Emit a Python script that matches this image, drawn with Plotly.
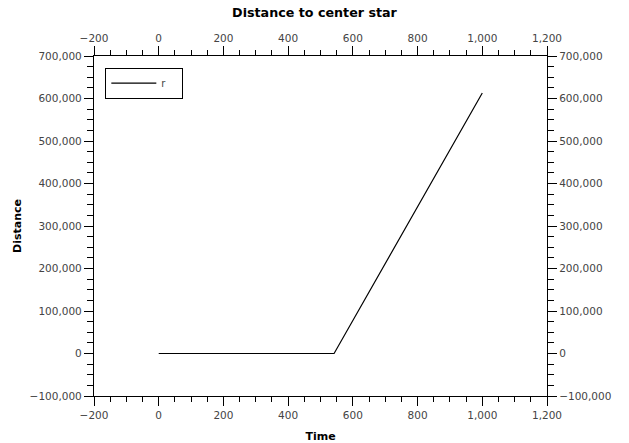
import plotly.graph_objects as go

# Radial distance of the body from the central star over time
time = [0, 542, 1000]
distance = [0, 0, 613000]
series_name = "r"

x_range = [-200, 1200]
y_range = [-100000, 700000]

tick_font = dict(family="DejaVu Sans", size=10.5, color="#444444")
title_font = dict(family="DejaVu Sans", size=11, color="black", weight="bold")

fig = go.Figure()
fig.add_trace(go.Scatter(
    x=time, y=distance, mode="lines", name=series_name,
    line=dict(color="black", width=1.2),
    xaxis="x", yaxis="y",
))
# Companion trace so the top and right axes get drawn with labels
fig.add_trace(go.Scatter(
    x=time, y=distance, mode="lines", showlegend=False, hoverinfo="skip",
    line=dict(color="rgba(0,0,0,0)", width=0),
    xaxis="x2", yaxis="y2",
))

common_x = dict(
    range=x_range, dtick=200, tickformat=",d", showgrid=False, zeroline=False,
    showline=True, linecolor="black", linewidth=1.2, automargin=False,
    ticks="outside", ticklen=9, tickwidth=1.2, tickcolor="black",
    minor=dict(dtick=50, ticks="outside", ticklen=5, tickwidth=1, tickcolor="black"),
    tickfont=tick_font,
)
common_y = dict(
    range=y_range, dtick=100000, tickformat=",d", showgrid=False, zeroline=False,
    showline=True, linecolor="black", linewidth=1.2, automargin=False,
    ticks="outside", ticklen=9, tickwidth=1.2, tickcolor="black",
    minor=dict(dtick=25000, ticks="outside", ticklen=6, tickwidth=1, tickcolor="black"),
    tickfont=tick_font,
)

fig.update_layout(
    width=629, height=443,
    margin=dict(l=94, r=82, t=56, b=47, autoexpand=False),
    paper_bgcolor="white", plot_bgcolor="white",
    title=dict(text="Distance to center star", x=0.5, xanchor="center",
               y=0.972, yanchor="middle",
               font=dict(title_font, size=12.7)),
    xaxis=dict(common_x, title=dict(text="Time", font=title_font, standoff=12)),
    yaxis=dict(common_y, title=dict(text="Distance", font=title_font, standoff=5)),
    xaxis2=dict(common_x, overlaying="x", side="top"),
    yaxis2=dict(common_y, overlaying="y", side="right"),
    legend=dict(x=0.025, y=0.966, xanchor="left", yanchor="top",
                orientation="h", entrywidth=16, entrywidthmode="pixels",
                bordercolor="black", borderwidth=1, bgcolor="white",
                itemwidth=45, tracegroupgap=0,
                font=dict(family="DejaVu Sans", size=10, color="#444444")),
    showlegend=True,
)

fig.write_html("out.html")
